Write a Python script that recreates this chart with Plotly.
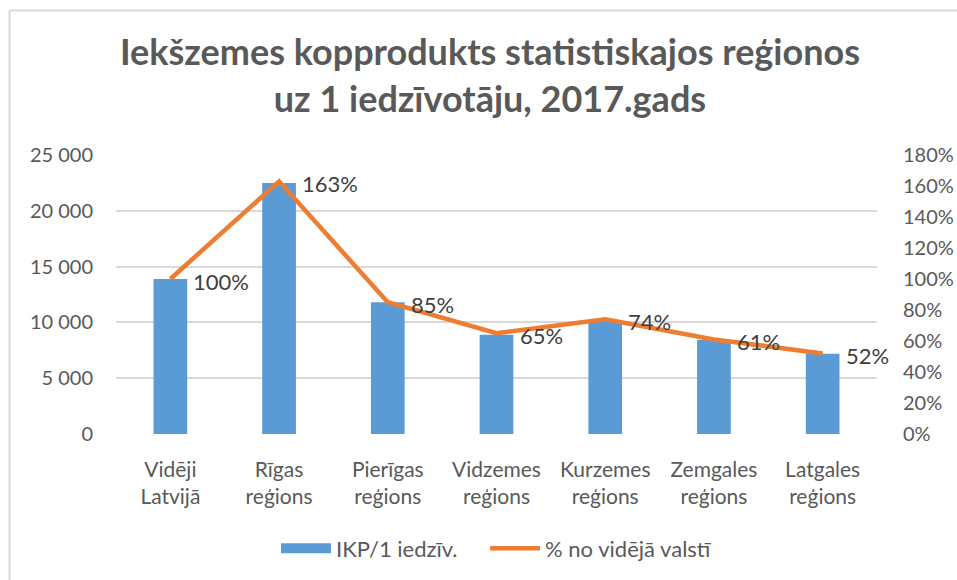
import plotly.graph_objects as go

categories = ["Vidēji<br>Latvijā", "Rīgas<br>reģions", "Pierīgas<br>reģions", "Vidzemes<br>reģions",
              "Kurzemes<br>reģions", "Zemgales<br>reģions", "Latgales<br>reģions"]
gdp_per_capita = [13900, 22500, 11800, 8900, 10200, 8450, 7200]
pct_of_average = [100, 163, 85, 65, 74, 61, 52]
pct_labels = ["100%", "163%", "85%", "65%", "74%", "61%", "52%"]

FONT = "Lato"
GRAY = "#595959"
BLUE = "#5B9BD5"
ORANGE = "#ED7D31"

fig = go.Figure()
fig.add_trace(go.Bar(
    x=categories, y=gdp_per_capita, name="IKP/1 iedzīv.",
    marker=dict(color=BLUE, line=dict(width=0)),
    yaxis="y", showlegend=False,
))
# legend proxy giving a wide rectangular swatch for the bar series
fig.add_trace(go.Scatter(
    x=[categories[0]], y=[None], name="IKP/1 iedzīv." + "&nbsp;" * 4, mode="lines",
    line=dict(color=BLUE, width=13), yaxis="y", hoverinfo="skip",
))
fig.add_trace(go.Scatter(
    x=categories, y=pct_of_average, name="% no vidējā valstī",
    mode="lines", line=dict(color=ORANGE, width=4.5),
    yaxis="y2",
))

annotations = []
for c, v, t in zip(categories, pct_of_average, pct_labels):
    annotations.append(dict(
        x=c, y=v, xref="x", yref="y2", text=t, showarrow=False,
        xanchor="left", yanchor="middle", xshift=21, yshift=-2,
        font=dict(family=FONT, size=22, color="#404040"),
    ))

fig.update_layout(
    width=957, height=580,
    margin=dict(l=116, r=80, t=155, b=146, autoexpand=False),
    paper_bgcolor="white", plot_bgcolor="white",
    separators=". ",
    bargap=0.69,
    title=dict(
        text="<b>Iekšzemes kopprodukts statistiskajos reģionos<br>uz 1 iedzīvotāju, 2017.gads</b>",
        x=0.512, xref="container", xanchor="center",
        y=1 - 65 / 580, yref="container", yanchor="middle",
        font=dict(family=FONT, size=36, color=GRAY),
    ),
    xaxis=dict(
        type="category", range=[-0.5, 6.5],
        showgrid=False, showline=False, zeroline=False, ticks="",
        tickfont=dict(family=FONT, size=21, color=GRAY),
        ticklabelstandoff=21, automargin=False,
    ),
    yaxis=dict(
        range=[0, 25000], dtick=5000, tickformat=",",
        showgrid=True, gridcolor="#d9d9d9", gridwidth=1.5,
        zeroline=False, showline=False, ticks="",
        tickfont=dict(family=FONT, size=20, color=GRAY),
        ticklabelstandoff=22, automargin=False,
    ),
    yaxis2=dict(
        range=[0, 180], dtick=20, ticksuffix="%",
        overlaying="y", side="right",
        showgrid=False, zeroline=False, showline=False, ticks="",
        tickfont=dict(family=FONT, size=20, color=GRAY),
        ticklabelstandoff=25, automargin=False,
    ),
    legend=dict(
        orientation="h", x=0.5, xanchor="center", y=-0.41, yanchor="middle",
        font=dict(family=FONT, size=22, color=GRAY),
        itemwidth=50, traceorder="normal",
    ),
    annotations=annotations,
    shapes=[
        dict(type="line", xref="paper", yref="paper",
             x0=(9.5 - 116) / 761, x1=(9.5 - 116) / 761,
             y0=(434 - 10.5) / 279, y1=(434 - 600) / 279,
             line=dict(color="#d9d9d9", width=2)),
        dict(type="line", xref="paper", yref="paper",
             x0=(9.5 - 116) / 761, x1=(1000 - 116) / 761,
             y0=(434 - 10.5) / 279, y1=(434 - 10.5) / 279,
             line=dict(color="#d9d9d9", width=2)),
    ],
)

fig.write_html(
    "out.html",
    config={"displayModeBar": False},
    post_script="document.body.style.margin='0';document.body.style.overflow='hidden';",
)
